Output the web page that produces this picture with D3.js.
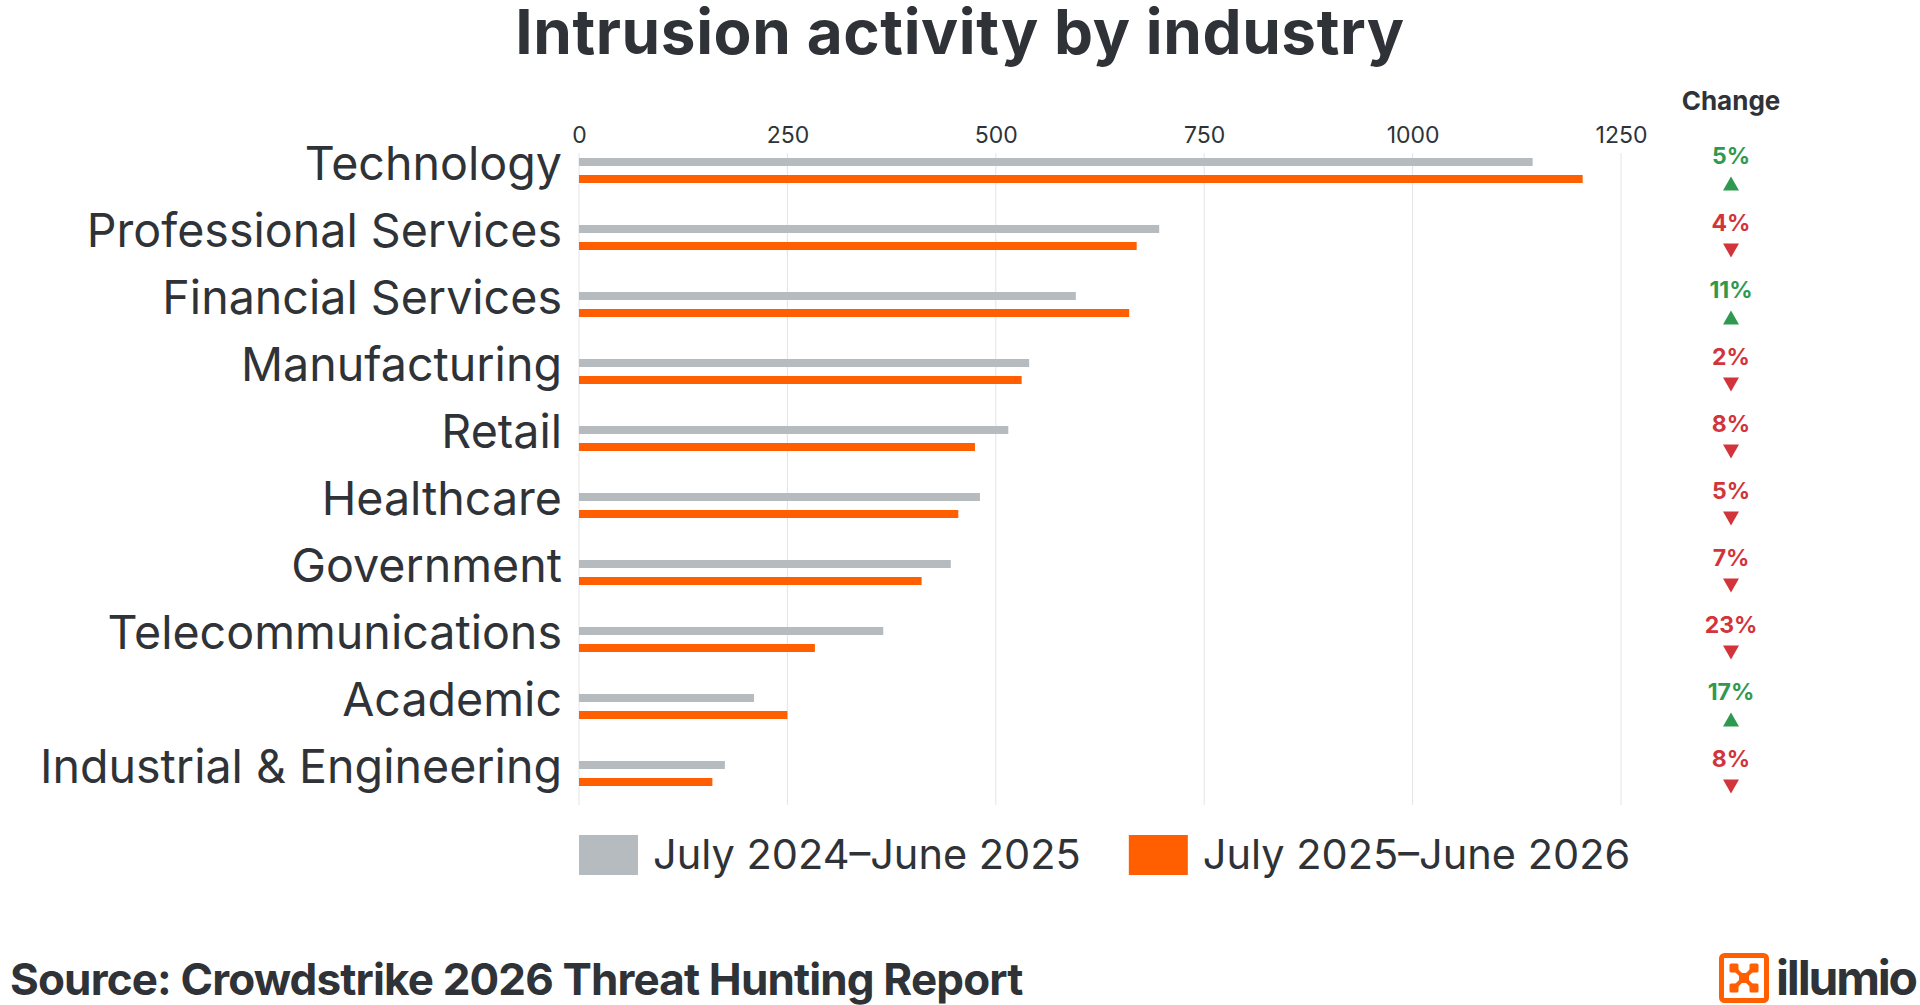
<!DOCTYPE html>
<html lang="en">
<head>
<meta charset="utf-8">
<title>Intrusion activity by industry</title>
<script src="https://d3js.org/d3.v7.min.js"></script>
<style>
  body { margin: 0; background: #fff; }
  svg { display: block; font-family: Inter, "Noto Sans", sans-serif; }
</style>
</head>
<body>
<div id="chart"></div>
<script>
// data
var categories = ["Technology", "Professional Services", "Financial Services", "Manufacturing",
  "Retail", "Healthcare", "Government", "Telecommunications", "Academic", "Industrial & Engineering"]
var prevValues = [1144, 696, 596, 540, 515, 481, 446, 365, 210, 175]
var currValues = [1204, 669, 660, 531, 475, 455, 411, 283, 250, 160]
var changeLabels = ["5%", "4%", "11%", "2%", "8%", "5%", "7%", "23%", "17%", "8%"]
var changeUp = [true, false, true, false, false, false, false, false, true, false]
var seriesNames = ["July 2024\u2013June 2025", "July 2025\u2013June 2026"]
var tickValues = [0, 250, 500, 750, 1000, 1250]

var W = 1920, H = 1005
var ink = "#2f3337"
var colors = ["#b6bbbf", "#ff5f00"]
var green = "#2f9a4f", red = "#d2343b"

var svg = d3.select("#chart").append("svg").attr("width", W).attr("height", H)

var x = d3.scaleLinear().domain([0, 1250]).range([579, 1621])
var y = d3.scaleBand().domain(categories).range([137, 807])
var inner = d3.scaleBand().domain([0, 1])
  .range([y.bandwidth() / 2 - 12.5, y.bandwidth() / 2 + 12.5]).paddingInner(9 / 17)

// title
svg.append("text").attr("x", W / 2).attr("y", 54).attr("text-anchor", "middle")
  .attr("font-size", 62).attr("font-weight", 700).attr("letter-spacing", 0.6)
  .attr("fill", ink).text("Intrusion activity by industry")

// grid + top axis labels
svg.append("g").selectAll("line").data(tickValues).join("line")
  .attr("x1", d => x(d)).attr("x2", d => x(d))
  .attr("y1", 153).attr("y2", 805)
  .attr("stroke", "#e4e4e4").attr("stroke-width", 1)

var axis = svg.append("g").attr("transform", "translate(0,143)")
  .call(d3.axisTop(x).tickValues(tickValues).tickSize(0).tickPadding(0).tickFormat(d3.format("d")))
axis.select(".domain").remove()
axis.selectAll("text").attr("font-size", 23).attr("fill", ink).attr("font-family", "Inter")
  .attr("dy", 0)

// category labels
svg.append("g").selectAll("text").data(categories).join("text")
  .attr("x", 562).attr("y", d => y(d) + y.bandwidth() / 2 + 9)
  .attr("text-anchor", "end").attr("font-size", 46.6).attr("fill", ink)
  .text(d => d)

// bars
var rows = svg.append("g").selectAll("g").data(categories).join("g")
  .attr("transform", d => "translate(0," + y(d) + ")")

rows.selectAll("rect").data((d, i) => [prevValues[i], currValues[i]]).join("rect")
  .attr("x", x(0)).attr("y", (d, j) => inner(j))
  .attr("width", d => x(d) - x(0)).attr("height", inner.bandwidth())
  .attr("fill", (d, j) => colors[j])

// change column
svg.append("text").attr("x", 1731).attr("y", 110).attr("text-anchor", "middle")
  .attr("font-size", 26).attr("font-weight", 700).attr("fill", ink).text("Change")

rows.append("text").attr("x", 1731).attr("y", y.bandwidth() / 2 - 7)
  .attr("text-anchor", "middle").attr("font-size", 23).attr("font-weight", 700)
  .attr("fill", (d, i) => changeUp[i] ? green : red)
  .text((d, i) => changeLabels[i])

rows.append("path")
  .attr("transform", d => "translate(1731," + (y.bandwidth() / 2 + 13) + ")")
  .attr("d", (d, i) => changeUp[i] ? "M-8,7L8,7L0,-7Z" : "M-8,-7L8,-7L0,7Z")
  .attr("fill", (d, i) => changeUp[i] ? green : red)

// legend
var legend = svg.append("g")
var lx = 579
seriesNames.forEach(function (name, j) {
  legend.append("rect").attr("x", lx).attr("y", 835).attr("width", 59).attr("height", 40)
    .attr("fill", colors[j])
  var t = legend.append("text").attr("x", lx + 74).attr("y", 869)
    .attr("font-size", 41.5).attr("fill", ink).text(name)
  lx = lx + 74 + t.node().getComputedTextLength() + 48
})

// source
svg.append("text").attr("x", 10).attr("y", 995)
  .attr("font-size", 44).attr("font-weight", 700).attr("letter-spacing", -0.85).attr("fill", ink)
  .text("Source: Crowdstrike 2026 Threat Hunting Report")

// illumio logo
var logo = svg.append("g").attr("transform", "translate(1719,953)")
logo.append("rect").attr("x", 2.5).attr("y", 2.5).attr("width", 45).attr("height", 45)
  .attr("rx", 3).attr("fill", "none").attr("stroke", "#ff5f00").attr("stroke-width", 5)
logo.append("path").attr("d", "M15,15L35,35M35,15L15,35")
  .attr("stroke", "#ff5f00").attr("stroke-width", 4)
;[[15, 15], [35, 15], [15, 35], [35, 35]].forEach(function (p) {
  logo.append("rect").attr("x", p[0] - 4.5).attr("y", p[1] - 4.5).attr("width", 9).attr("height", 9)
    .attr("rx", 1.5).attr("fill", "#ff5f00")
})
logo.append("rect").attr("x", 20).attr("y", 20).attr("width", 10).attr("height", 10)
  .attr("fill", "#ff5f00")
svg.append("text").attr("x", 1776).attr("y", 995)
  .attr("font-size", 48).attr("font-weight", 700).attr("fill", ink)
  .attr("textLength", 142).attr("lengthAdjust", "spacing")
  .text("illumio")
</script>
</body>
</html>
